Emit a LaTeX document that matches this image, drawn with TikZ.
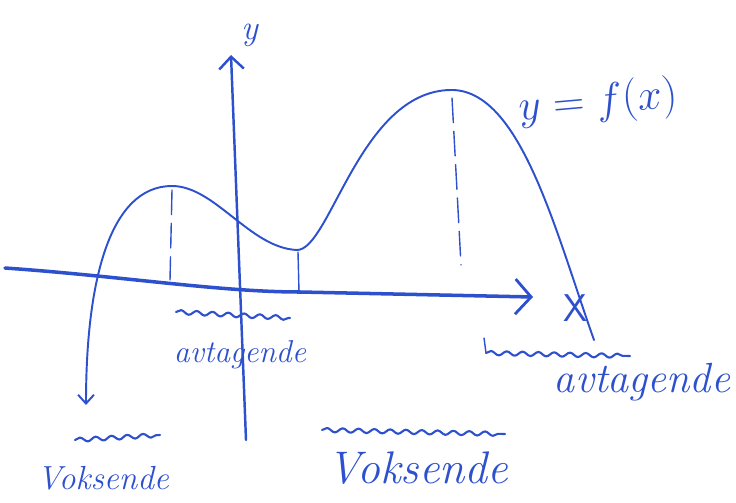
\documentclass[tikz,border=0pt]{standalone}
\usetikzlibrary{arrows.meta,decorations.pathmorphing}
\definecolor{pen}{RGB}{45,80,205}
\begin{document}
\begin{tikzpicture}[x=0.02cm,y=-0.02cm,
  ink/.style={draw=pen,line width=1.1pt,line cap=round,line join=round},
  axisline/.style={ink,line width=2pt},
  guide/.style={ink,line width=0.8pt,dash pattern=on 14pt off 5pt},
  squiggle/.style={ink,line width=1.2pt,decorate,decoration={snake,amplitude=1.2pt,segment length=9pt}},
  hand/.style={text=pen,font=\itshape,inner sep=0pt}]
\useasboundingbox (0,0) rectangle (736,503);
% axes
\coordinate (xs) at (5,268);
\coordinate (xe) at (533,297);
\draw[axisline,-{Straight Barb[length=9pt,width=20pt,line width=1.6pt]}] (xs) .. controls (120,276) and (220,292) .. (300,292) -- (xe);
\coordinate (ys) at (246,440);
\coordinate (ye) at (231,55);
\draw[ink,line width=1.4pt,-{Straight Barb[length=7pt,width=14pt,line width=1.4pt]}] (ys) -- (ye);
\node[hand,font=\itshape\fontsize{20}{20}\selectfont] (ylab) at (250,35) {y};
\node[hand,font=\fontsize{22}{22}\selectfont\sffamily] (xlab) at (576,308) {X};
% curve
\coordinate (cstart) at (86,405);
\coordinate (p1) at (172,186);
\coordinate (p2) at (297,250);
\coordinate (p3) at (450,90);
\coordinate (cend) at (594,340);
\draw[ink,{Straight Barb[length=5pt,width=9pt]}-] (cstart) .. controls (86,280) and (110,186) .. (p1)
  .. controls (215,186) and (250,248) .. (p2)
  .. controls (330,250) and (360,92) .. (p3)
  .. controls (520,88) and (555,230) .. (cend);
% guides
\coordinate (m1t) at (172,190); \coordinate (m1b) at (170,280);
\draw[guide] (m1t) -- (m1b);
\coordinate (m2t) at (298,252); \coordinate (m2b) at (299,292);
\draw[ink,line width=0.8pt] (m2t) -- (m2b);
\coordinate (m3t) at (452,98); \coordinate (m3b) at (461,265);
\draw[guide] (m3t) -- (m3b);
% squiggles
\coordinate (s1a) at (176,312); \coordinate (s1b) at (290,318);
\draw[squiggle] (s1a) -- (s1b);
\coordinate (s2t) at (484,338); \coordinate (s2a) at (486,353); \coordinate (s2b) at (630,356);
\draw[ink,line width=0.8pt] (s2t) -- (s2a);
\draw[squiggle] (s2a) -- (s2b);
\coordinate (s3a) at (75,440); \coordinate (s3b) at (160,435);
\draw[squiggle] (s3a) -- (s3b);
\coordinate (s4a) at (322,430); \coordinate (s4b) at (505,434);
\draw[squiggle] (s4a) -- (s4b);
% labels
\node[hand,font=\itshape\fontsize{18}{18}\selectfont] (av1) at (240,355) {avtagende};
\node[hand,font=\itshape\fontsize{24}{24}\selectfont] (av2) at (642,382) {avtagende};
\node[hand,font=\itshape\fontsize{19}{19}\selectfont] (vo1) at (103,478) {Voksende};
\node[hand,font=\itshape\fontsize{26}{26}\selectfont] (vo2) at (418,468) {Voksende};
\node[hand,font=\fontsize{24}{24}\selectfont,rotate=5] (fx) at (598,103) {$y=f(x)$};
\end{tikzpicture}
\end{document}
